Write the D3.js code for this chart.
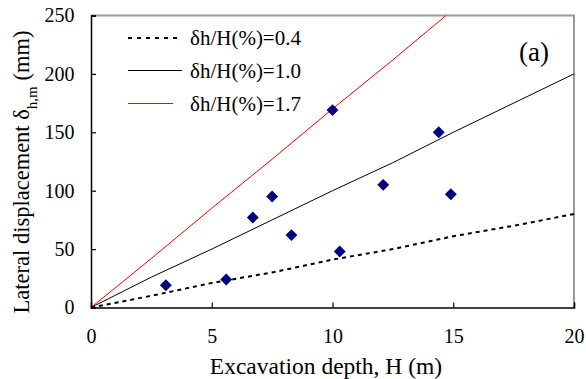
<!DOCTYPE html>
<html>
<head>
<meta charset="utf-8">
<script src="https://cdn.jsdelivr.net/npm/d3@7"></script>
<style>
  html, body { margin: 0; padding: 0; background: #fff; }
  svg { display: block; }
  text { font-family: "Liberation Serif", "Times New Roman", serif; fill: #000; }
</style>
</head>
<body>
<svg id="chart" width="586" height="379"></svg>
<script>
// Measured maximum lateral displacement vs excavation depth
const depthObs = [3.1, 5.6, 6.7, 7.5, 8.3, 10.0, 10.3, 12.1, 14.4, 14.9];
const dispObs  = [19, 24, 77, 95, 62, 169, 48, 105, 150, 97];

// Reference lines of constant displacement ratio δh/H
const depthRef   = [0, 2.5, 5, 7.5, 10, 12.5, 15, 17.5, 20];
const ratio04    = [0, 10, 21, 30, 41, 50, 61, 70, 80];
const ratio10    = [0, 26, 50, 75, 100, 124, 150, 175, 200];
const depthRed   = [0, 2.5, 5, 7.5, 10, 12.5, 14.7];
const ratio17    = [0, 42, 85, 127, 170, 212, 250];

const xTicks = [0, 5, 10, 15, 20];
const yTicks = [0, 50, 100, 150, 200, 250];
const legendLabels = ["δh/H(%)=0.4", "δh/H(%)=1.0", "δh/H(%)=1.7"];

const svg = d3.select("#chart");
const L = 91, R = 574, T = 15.5, B = 307.5;

const x = d3.scaleLinear().domain([0, 20]).range([L, R]);
const y = d3.scaleLinear().domain([0, 250]).range([B, T]);

// frame: grey top/right
svg.append("path")
  .attr("d", `M${L},${T}H${R}V${B}`)
  .attr("fill", "none").attr("stroke", "#999").attr("stroke-width", 2);

const line = d3.line().x(d => x(d[0])).y(d => y(d[1]));

svg.append("path").datum(d3.zip(depthRef, ratio04)).attr("d", line)
  .attr("fill", "none").attr("stroke", "#000").attr("stroke-width", 2)
  .attr("stroke-dasharray", "4,4");
svg.append("path").datum(d3.zip(depthRef, ratio10)).attr("d", line)
  .attr("fill", "none").attr("stroke", "#000").attr("stroke-width", 1);
svg.append("path").datum(d3.zip(depthRed, ratio17)).attr("d", line)
  .attr("fill", "none").attr("stroke", "#ff0000").attr("stroke-width", 1);

// observed points (navy diamonds)
const diamond = d3.symbol().type(d3.symbolDiamond2).size(90);
svg.append("g").selectAll("path").data(d3.zip(depthObs, dispObs)).join("path")
  .attr("d", diamond)
  .attr("transform", d => `translate(${x(d[0])},${y(d[1])})`)
  .attr("fill", "#000080");

// axes with inward ticks
const xAxis = svg.append("g").attr("transform", `translate(0,${B})`)
  .call(d3.axisBottom(x).tickValues(xTicks).tickSize(-5).tickPadding(21.5).tickFormat(d3.format("d")));
const yAxis = svg.append("g").attr("transform", `translate(${L},0)`)
  .call(d3.axisLeft(y).tickValues(yTicks).tickSize(-5).tickPadding(16.5).tickFormat(d3.format("d")));
[xAxis, yAxis].forEach(a => {
  a.select(".domain").attr("stroke", "#000").attr("stroke-width", 1.5);
  a.selectAll(".tick line").attr("stroke", "#000").attr("stroke-width", 1.2);
  a.selectAll(".tick text").attr("font-size", 20).attr("fill", "#000");
});

// axis titles
svg.append("text").attr("x", 326).attr("y", 374).attr("text-anchor", "middle")
  .attr("font-size", 23.5).text("Excavation depth, H (m)");

const yt = svg.append("text").attr("transform", "translate(29,172) rotate(-90)")
  .attr("text-anchor", "middle").attr("font-size", 22.5);
yt.append("tspan").text("Lateral displacement δ");
yt.append("tspan").attr("baseline-shift", "sub").attr("font-size", 15).text("h,m");
yt.append("tspan").text(" (mm)");

// panel tag
svg.append("text").attr("x", 534).attr("y", 61).attr("text-anchor", "middle")
  .attr("font-size", 27).text("(a)");

// legend
const leg = svg.append("g");
const legStyles = [
  {stroke: "#000", w: 2, dash: "4,5", x2: 180},
  {stroke: "#000", w: 1, dash: null, x2: 182},
  {stroke: "#ff0000", w: 1, dash: null, x2: 173}
];
const legY = [38, 70.5, 103.5];
legendLabels.forEach((lab, i) => {
  const s = legStyles[i];
  leg.append("line").attr("x1", 128).attr("x2", s.x2).attr("y1", legY[i]).attr("y2", legY[i])
    .attr("stroke", s.stroke).attr("stroke-width", s.w).attr("stroke-dasharray", s.dash);
  leg.append("text").attr("x", 190).attr("y", legY[i] + 7).attr("font-size", 21).text(lab);
});
</script>
</body>
</html>
